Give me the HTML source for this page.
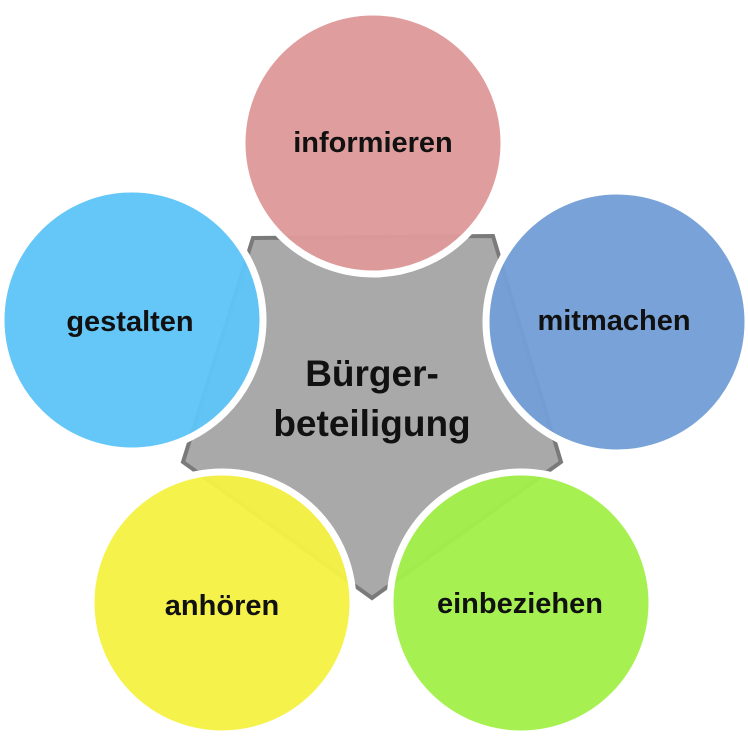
<!DOCTYPE html>
<html><head><style>
html,body{margin:0;padding:0;background:#fff;}
svg text{font-family:"Liberation Sans","DejaVu Sans",sans-serif;font-weight:bold;fill:#111;text-anchor:middle;}
</style></head><body>
<svg width="748" height="745" viewBox="0 0 748 745" xmlns="http://www.w3.org/2000/svg">
<polygon points="253,238 493,236 561,462 372,598 183,462" fill="#a9a9a9" stroke="#7a7a7a" stroke-width="4" stroke-linejoin="miter"/>
<g stroke="#fff" stroke-width="7">
<circle cx="373" cy="143" r="131" fill="#de9a99" fill-opacity="0.96"/>
<circle cx="132" cy="320" r="131" fill="#5ec5f8" fill-opacity="0.96"/>
<circle cx="617" cy="322" r="131" fill="#749fd6" fill-opacity="0.96"/>
<circle cx="222" cy="603" r="131" fill="#f5f145" fill-opacity="0.96"/>
<circle cx="521" cy="603" r="131" fill="#a2f04a" fill-opacity="0.96"/>
</g>
<text x="373" y="152" font-size="29">informieren</text>
<text x="130" y="331" font-size="29">gestalten</text>
<text x="614" y="330" font-size="29">mitmachen</text>
<text x="222" y="615" font-size="29">anhören</text>
<text x="520" y="613" font-size="29">einbeziehen</text>
<text x="372" y="386" font-size="37">Bürger-</text>
<text x="372" y="436" font-size="37">beteiligung</text>
</svg>
</body></html>
